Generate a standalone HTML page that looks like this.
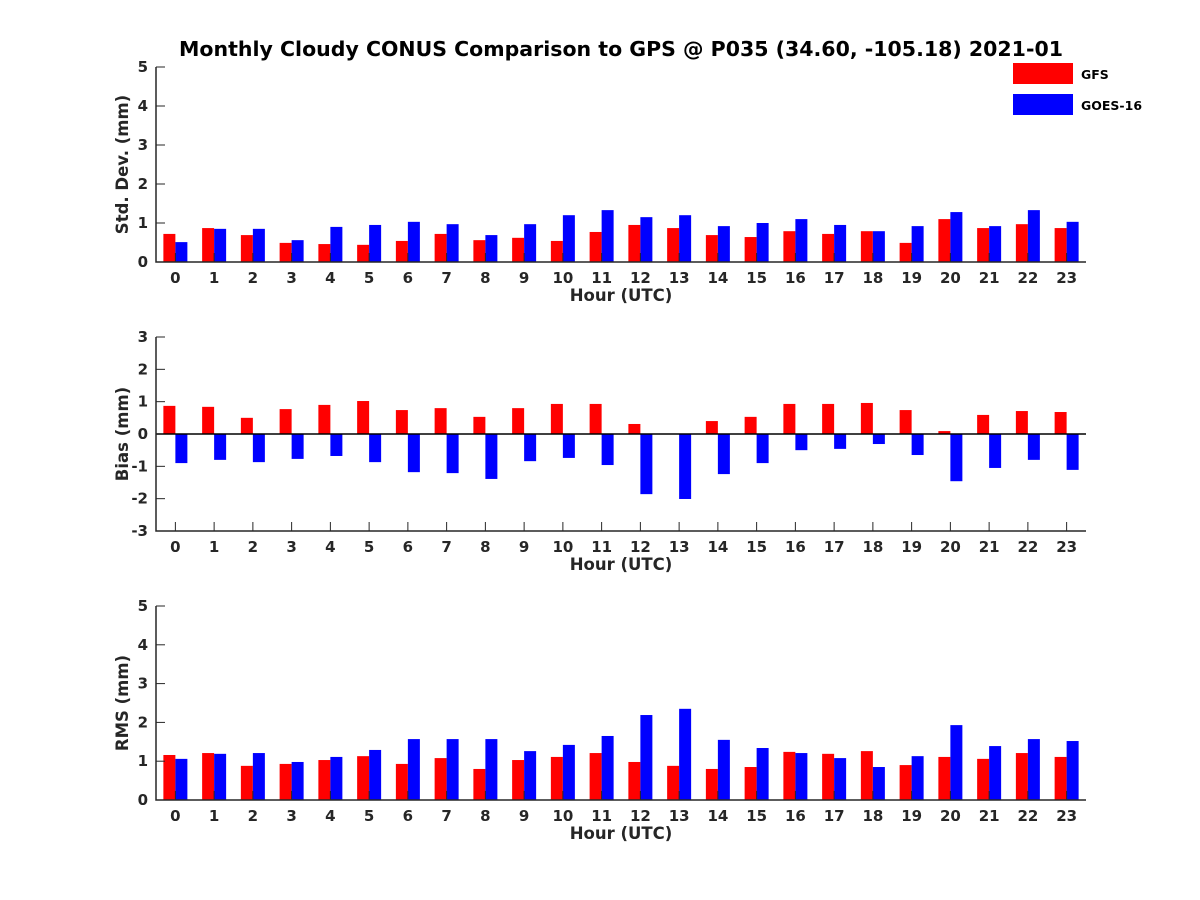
<!DOCTYPE html>
<html><head><meta charset="utf-8"><style>
body{margin:0;background:#fff}
svg{display:block;font-family:"DejaVu Sans","Liberation Sans",sans-serif;font-weight:bold}
</style></head><body>
<svg id="c" width="1200" height="900" viewBox="0 0 1200 900">
<text x="621" y="56" font-size="20.5" text-anchor="middle">Monthly Cloudy CONUS Comparison to GPS @ P035 (34.60, -105.18) 2021-01</text>
<rect x="1013" y="63" width="60" height="21" fill="#ff0000"/>
<text x="1081" y="79" font-size="12.5">GFS</text>
<rect x="1013" y="94" width="60" height="21" fill="#0000ff"/>
<text x="1081" y="110" font-size="12.5">GOES-16</text>
</svg>
<script>
const hours=[0,1,2,3,4,5,6,7,8,9,10,11,12,13,14,15,16,17,18,19,20,21,22,23];
const stdGFS=[0.72,0.87,0.69,0.49,0.46,0.44,0.54,0.72,0.56,0.62,0.54,0.77,0.95,0.87,0.69,0.64,0.79,0.72,0.79,0.49,1.1,0.87,0.97,0.87];
const stdGOES=[0.51,0.85,0.85,0.56,0.9,0.95,1.03,0.97,0.69,0.97,1.2,1.33,1.15,1.2,0.92,1.0,1.1,0.95,0.79,0.92,1.28,0.92,1.33,1.03];
const biasGFS=[0.87,0.84,0.5,0.77,0.9,1.02,0.74,0.8,0.53,0.8,0.93,0.93,0.31,0,0.4,0.53,0.93,0.93,0.96,0.74,0.09,0.59,0.71,0.68];
const biasGOES=[-0.9,-0.8,-0.87,-0.77,-0.68,-0.87,-1.18,-1.21,-1.39,-0.84,-0.74,-0.96,-1.86,-2.01,-1.24,-0.9,-0.5,-0.46,-0.31,-0.65,-1.46,-1.05,-0.8,-1.11];
const rmsGFS=[1.16,1.21,0.88,0.93,1.03,1.13,0.93,1.08,0.8,1.03,1.11,1.21,0.98,0.88,0.8,0.85,1.24,1.19,1.26,0.9,1.11,1.06,1.21,1.11];
const rmsGOES=[1.06,1.19,1.21,0.98,1.11,1.29,1.57,1.57,1.57,1.26,1.42,1.65,2.19,2.35,1.55,1.34,1.21,1.08,0.85,1.13,1.93,1.39,1.57,1.52];
const stdTicks=[0,1,2,3,4,5];
const biasTicks=[-3,-2,-1,0,1,2,3];
const rmsTicks=[0,1,2,3,4,5];
const svg=document.getElementById('c');const NS='http://www.w3.org/2000/svg';
function mk(t,a,txt){const e=document.createElementNS(NS,t);for(const k in a)e.setAttribute(k,a[k]);if(txt!=null)e.textContent=txt;svg.appendChild(e);return e;}
const L=156,R=1086;
function panel(key,top,bot,ymin,ymax,ticks,a,b,ylabel){
  const x=v=>L+(v+0.5)*(R-L)/24;
  const y=v=>bot-(v-ymin)*(bot-top)/(ymax-ymin);
  const bw=12;
  hours.forEach((h,i)=>{
    [[a[i],-bw,'#ff0000','gfs'],[b[i],0,'#0000ff','goes16']].forEach(([v,o,c,n])=>{
      const y0=y(0),y1=y(v);
      const r=mk('rect',{x:x(h)+o,y:Math.min(y0,y1),width:bw,height:Math.abs(y1-y0),fill:c});
      
      
    });
    const t=mk('line',{x1:x(h),x2:x(h),y1:bot,y2:bot-9,stroke:'#262626','stroke-width':1});
    
    const tl=mk('text',{x:x(h),y:bot+21,'font-size':15,'text-anchor':'middle',fill:'#262626'},String(h));
    
  });
  ticks.forEach(v=>{
    const t=mk('line',{x1:L,x2:L+9,y1:y(v),y2:y(v),stroke:'#262626'});
    
    const tl=mk('text',{x:L-8,y:y(v)+5,'font-size':15,'text-anchor':'end',fill:'#262626'},String(v));
    
  });
  if(ymin<0){const z=mk('line',{x1:L,x2:R,y1:y(0),y2:y(0),stroke:'#000','stroke-width':1.5});
    }
  const ax=mk('path',{d:`M${L},${top}V${bot}H${R}`,fill:'none',stroke:'#262626','stroke-width':1.5});
  
  const xl=mk('text',{x:(L+R)/2,y:bot+39,'font-size':16.5,'text-anchor':'middle',fill:'#262626'},'Hour (UTC)');
  
  const cy=(top+bot)/2;
  const yl=mk('text',{x:128,y:cy,'font-size':16.5,'text-anchor':'middle',fill:'#262626',transform:`rotate(-90 128 ${cy})`},ylabel);
  
}
panel('std',67,262,0,5,stdTicks,stdGFS,stdGOES,'Std. Dev. (mm)');
panel('bias',337,531,-3,3,biasTicks,biasGFS,biasGOES,'Bias (mm)');
panel('rms',606,800,0,5,rmsTicks,rmsGFS,rmsGOES,'RMS (mm)');
</script>
</body></html>
